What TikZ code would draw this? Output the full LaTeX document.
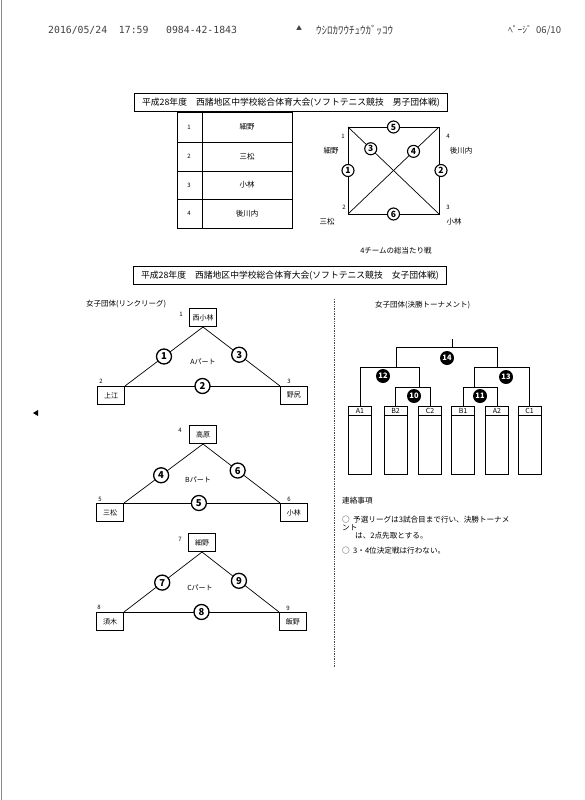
\documentclass[tikz,border=0pt]{standalone}
\usepackage{fontspec}
\setmainfont{Noto Sans CJK JP}
\newfontfamily\monofont{DejaVu Sans Mono}
\newcommand{\fs}[1]{\fontsize{#1}{#1}\selectfont}
\begin{document}
\begin{tikzpicture}[x=1pt,y=-1pt,
  line/.style={line width=0.7pt},
  titlebox/.style={draw,line width=0.9pt,anchor=north west,minimum height=18pt,minimum width=313pt,inner xsep=3pt,font=\fs{8.8}},
  lbl/.style={inner sep=0pt,font=\fs{7.5}},
  small/.style={inner sep=0pt,font=\fs{6}},
  num/.style={circle,draw,line width=1.3pt,fill=white,inner sep=0pt,minimum size=15pt,font=\bfseries\fs{9.5}},
  snum/.style={num,minimum size=12pt,line width=1.1pt,font=\bfseries\fs{8.5}},
  bnum/.style={circle,fill=black,text=white,inner sep=0pt,minimum size=14pt,font=\bfseries\fs{7.5}},
  tribox/.style={draw,line width=0.7pt,minimum width=27pt,minimum height=18pt,inner sep=1pt,font=\fs{7}},
  tbox/.style={draw,line width=0.7pt,minimum width=23pt,minimum height=68pt,inner sep=0pt},
  note/.style={inner sep=0pt,anchor=west,font=\fs{7.6}},
  hdr/.style={inner sep=0pt,anchor=west,text=black!75}]
\useasboundingbox (0,0) rectangle (584,800);
\fill[white] (0,0) rectangle (584,800);
\draw[black!45,line width=1pt] (1,0) -- (1,800);

% header
\node[hdr,font=\monofont\fs{9.8}] (h1) at (48,30) {2016/05/24\ \ 17:59\ \ \ 0984-42-1843};
\node[hdr,font=\fs{6}] (h2) at (296,28) {▲};
\node[hdr,font=\fs{11}] (h3) at (316,30) {ｳｼﾛｶﾜｳﾁｭｳｶﾞｯｺｳ};
\node[hdr,font=\fs{9.5}] (h4) at (508,30) {ﾍﾟｰｼﾞ\ \ 06/10};

% title 1
\node[titlebox] (t1) at (134,93) {平成28年度\hspace{9pt}西諸地区中学校総合体育大会(ソフトテニス競技\hspace{9pt}男子団体戦)};

% table
\draw[line width=0.9pt] (177,112) rectangle (292,228);
\draw[line] (202,112) -- (202,228);
\foreach \y in {142,171,199} \draw[line] (177,\y) -- (292,\y);
\node[small] (r1) at (189,127) {1};
\node[small] (r2) at (189,156.5) {2};
\node[small] (r3) at (189,185) {3};
\node[small] (r4) at (189,213.5) {4};
\node[lbl] (n1) at (247,127) {細野};
\node[lbl] (n2) at (247,156.5) {三松};
\node[lbl] (n3) at (247,185) {小林};
\node[lbl] (n4) at (247,213.5) {後川内};

% square
\coordinate (s1) at (348,127);
\coordinate (s4) at (439,127);
\coordinate (s2) at (348,214);
\coordinate (s3) at (439,214);
\draw[line] (s1) -- (s4) -- (s3) -- (s2) -- cycle;
\draw[line] (s1) -- node[snum,pos=0.25] (m3) {3} (s3);
\draw[line] (s2) -- node[snum,pos=0.72] (m4) {4} (s4);
\path (s1) -- node[snum] (m5) {5} (s4);
\path (s2) -- node[snum] (m6) {6} (s3);
\path (s1) -- node[snum] (m1) {1} (s2);
\path (s4) -- node[snum,xshift=2pt] (m2) {2} (s3);
\node[small] (v1) at (343,136) {1};
\node[small] (v4) at (448,136) {4};
\node[small] (v2) at (344,207) {2};
\node[small] (v3) at (448,207) {3};
\node[lbl] (q1) at (331,151) {細野};
\node[lbl] (q4) at (461,151) {後川内};
\node[lbl] (q2) at (327,222) {三松};
\node[lbl] (q3) at (454,222) {小林};
\node[lbl] (cap) at (396,251) {4チームの総当たり戦};

% title 2
\node[titlebox] (t2) at (133,266) {平成28年度\hspace{9pt}西諸地区中学校総合体育大会(ソフトテニス競技\hspace{9pt}女子団体戦)};

% divider
\draw[black!70,line width=0.7pt,densely dotted] (334,299) -- (334,667);
\fill (33,413) -- (38,410) -- (38,416) -- cycle;

% league
\node[lbl,anchor=west] (lg) at (86,304) {女子団体(リンクリーグ)};

% A part
\node[tribox,anchor=south] (a1) at (203,327) {西小林};
\node[tribox,anchor=north east] (a2) at (125,386) {上江};
\node[tribox,anchor=north west] (a3) at (280,386) {野尻};
\draw[line] (a1.south) -- node[num,pos=0.5] {1} (a2.north east);
\draw[line] (a1.south) -- node[num,pos=0.47] {3} (a3.north west);
\draw[line] (a2.north east) -- node[num] {2} (a3.north west);
\node[small] at (181,314) {1};
\node[small] at (101,381) {2};
\node[small] at (289,381) {3};
\node[lbl,font=\fs{7}] (pa) at (203,362) {Aパート};

% B part
\node[tribox,anchor=south] (b1) at (203,444) {高原};
\node[tribox,anchor=north east] (b2) at (124,503) {三松};
\node[tribox,anchor=north west] (b3) at (280,503) {小林};
\draw[line] (b1.south) -- node[num,pos=0.53] {4} (b2.north east);
\draw[line] (b1.south) -- node[num,pos=0.45] {6} (b3.north west);
\draw[line] (b2.north east) -- node[num,pos=0.48] {5} (b3.north west);
\node[small] at (180,430) {4};
\node[small] at (100,499) {5};
\node[small] at (289,499) {6};
\node[lbl,font=\fs{7}] (pb) at (198,480) {Bパート};

% C part
\node[tribox,anchor=south] (c1) at (202,552) {細野};
\node[tribox,anchor=north east] (c2) at (124,612) {須木};
\node[tribox,anchor=north west] (c3) at (279,612) {飯野};
\draw[line] (c1.south) -- node[num,pos=0.51] {7} (c2.north east);
\draw[line] (c1.south) -- node[num,pos=0.48] {9} (c3.north west);
\draw[line] (c2.north east) -- node[num] {8} (c3.north west);
\node[small] at (180,539) {7};
\node[small] at (99,607) {8};
\node[small] at (288,608) {9};
\node[lbl,font=\fs{7}] (pc) at (200,588) {Cパート};

% tournament
\node[lbl,anchor=west] (tt) at (375,305) {女子団体(決勝トーナメント)};
\foreach \n/\x in {A1/360,B2/395.5,C2/430,B1/463,A2/497,C1/529.5}{
  \node[tbox] (\n) at (\x,440) {};
  \draw[line] ([yshift=-10pt]\n.north west) -- ([yshift=-10pt]\n.north east);
  \node[small,font=\fs{7}] at ([yshift=-5pt]\n.north) {\n};
}
\coordinate (k10) at (419,387);
\coordinate (k11) at (474,387);
\coordinate (k12) at (396,367);
\coordinate (k13) at (497,367);
\coordinate (k14) at (452,339);
\draw[line] (B2.north) |- (C2.north |- k10) -- (C2.north);
\draw[line] (B1.north) |- (A2.north |- k11) -- (A2.north);
\draw[line] (A1.north) |- (k10 |- k12) -- (k10);
\draw[line] (k11) |- (C1.north |- k13) -- (C1.north);
\draw[line] (k12) |- (k13 |- 0,347) -- (k13);
\draw[line] (k14) -- (k14 |- 0,347);
\node[bnum] (w10) at (414,396) {10};
\node[bnum] (w11) at (480,396) {11};
\node[bnum] (w12) at (383,376) {12};
\node[bnum] (w13) at (506,377) {13};
\node[bnum] (w14) at (447,358) {14};

% notes
\node[note] (r0) at (342,501) {連絡事項};
\node[note] (r1) at (342,520) {○\ \ 予選リーグは3試合目まで行い、決勝トーナメ};
\node[note] (r2) at (342,528) {ント};
\node[note] (r3) at (355,536) {は、2点先取とする。};
\node[note] (r4) at (342,551) {○\ \ 3・4位決定戦は行わない。};
\end{tikzpicture}
\end{document}
